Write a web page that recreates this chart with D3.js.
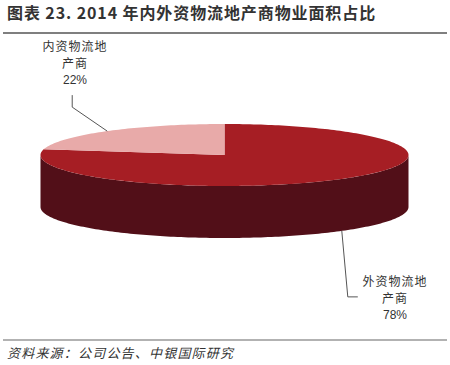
<!DOCTYPE html>
<html>
<head>
<meta charset="utf-8">
<script src="https://cdn.jsdelivr.net/npm/d3@7"></script>
<style>
  body { margin: 0; background: #fff; }
  svg { display: block; font-family: "Noto Sans CJK SC", "Noto Sans", sans-serif; }
</style>
</head>
<body>
<svg id="chart" width="450" height="365"></svg>
<script>
// data
const categories = ["外资物流地产商", "内资物流地产商"];
const labelLines = [["外资物流地", "产商"], ["内资物流地", "产商"]];
const values = [78, 22];
const colors = ["#A61E24", "#E8AAA9"];
const sideColors = ["#520F18", "#9E6F6E"];

const svg = d3.select("#chart");

// title + rules
svg.append("text")
    .attr("x", 7).attr("y", 19)
    .attr("font-size", 16).attr("font-weight", "bold")
    .attr("letter-spacing", 0.9)
    .attr("fill", "#333")
    .text("图表 23. 2014 年内外资物流地产商物业面积占比");
svg.append("line").attr("x1", 3).attr("x2", 447).attr("y1", 33).attr("y2", 33)
    .attr("stroke", "#555").attr("stroke-width", 1.5);
svg.append("line").attr("x1", 3).attr("x2", 447).attr("y1", 340).attr("y2", 340)
    .attr("stroke", "#666").attr("stroke-width", 1.2);
svg.append("text")
    .attr("x", 7).attr("y", 358)
    .attr("font-size", 13).attr("font-style", "italic")
    .attr("letter-spacing", 1.2)
    .attr("fill", "#333")
    .text("资料来源：公司公告、中银国际研究");

// 3D pie geometry
const cx = 224.5, cy = 155, rx = 184, ry = 31, depth = 52;
const pt = (a, dy = 0) => [cx + rx * Math.sin(a), cy - ry * Math.cos(a) + dy];

const pie = d3.pie().sort(null).value(d => d)(values);

function arcPoints(a0, a1, dy) {
    const n = Math.max(2, Math.ceil((a1 - a0) / 0.02));
    return d3.range(n + 1).map(i => pt(a0 + (a1 - a0) * i / n, dy));
}

const line = d3.line();
const g = svg.append("g");

// side walls (front half only: angle pi/2 .. 3pi/2)
pie.forEach((s, i) => {
    const a0 = Math.max(s.startAngle, Math.PI / 2);
    const a1 = Math.min(s.endAngle, 3 * Math.PI / 2);
    if (a1 <= a0) return;
    const top = arcPoints(a0, a1, 0);
    const bot = arcPoints(a0, a1, depth).reverse();
    g.append("path")
        .attr("d", line(top.concat(bot)) + "Z")
        .attr("fill", sideColors[i]);
});

// top faces
pie.forEach((s, i) => {
    const pts = [[cx, cy]].concat(arcPoints(s.startAngle, s.endAngle, 0));
    g.append("path")
        .attr("d", line(pts) + "Z")
        .attr("fill", colors[i]);
});

// labels with leader lines
const labelPos = [
    { elbow: [6, 66], end: [16, 66], tx: 395, ty: 286 },
    { elbow: [-35, -24], end: [-35, -36], tx: 75, ty: 51 }
];
pie.forEach((s, i) => {
    const mid = (s.startAngle + s.endAngle) / 2;
    const front = Math.cos(mid) < 0;
    const anchor = pt(mid, front ? depth : 0);
    const lp = labelPos[i];
    const pts = [anchor,
        [anchor[0] + lp.elbow[0], anchor[1] + lp.elbow[1]],
        [anchor[0] + lp.end[0], anchor[1] + lp.end[1]]];
    svg.append("path").attr("d", line(pts))
        .attr("fill", "none").attr("stroke", "#555").attr("stroke-width", 1);
    const t = svg.append("text")
        .attr("text-anchor", "middle")
        .attr("font-size", 12).attr("fill", "#333");
    labelLines[i].forEach((l, k) => {
        t.append("tspan").attr("x", lp.tx).attr("y", lp.ty + k * 17)
            .attr("letter-spacing", 1).text(l);
    });
    t.append("tspan").attr("x", lp.tx).attr("y", lp.ty + 2 * 17 - 1)
        .attr("font-family", "Liberation Sans, Arial, sans-serif")
        .text(values[i] + "%");
});
</script>
</body>
</html>
